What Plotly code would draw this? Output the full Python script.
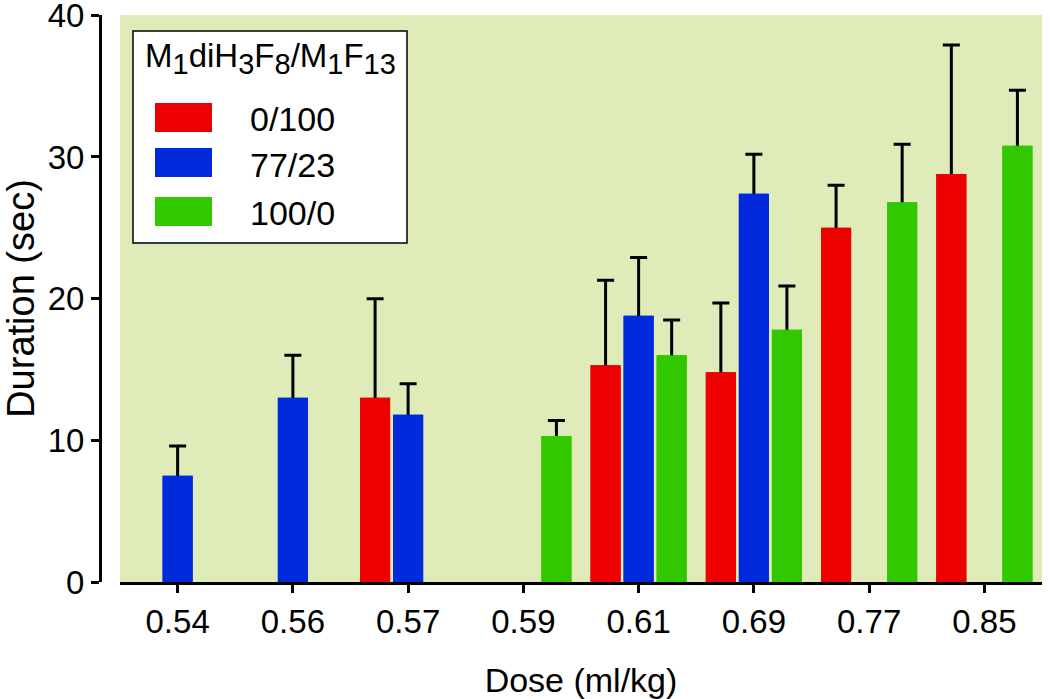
import plotly.graph_objects as go

doses = ["0.54", "0.56", "0.57", "0.59", "0.61", "0.69", "0.77", "0.85"]
series_names = ["0/100", "77/23", "100/0"]
red_vals = [None, None, 13.0, None, 15.3, 14.8, 25.0, 28.8]
red_err = [None, None, 7.0, None, 6.0, 4.9, 3.0, 9.1]
blue_vals = [7.5, 13.0, 11.8, None, 18.8, 27.4, None, None]
blue_err = [2.1, 3.0, 2.2, None, 4.1, 2.8, None, None]
green_vals = [None, None, None, 10.3, 16.0, 17.8, 26.8, 30.8]
green_err = [None, None, None, 1.1, 2.5, 3.1, 4.1, 3.9]
y_ticks = [0, 10, 20, 30, 40]

colors = ["#ec0000", "#0029dc", "#32c800"]
values = [red_vals, blue_vals, green_vals]
errors = [red_err, blue_err, green_err]
groups = ["r", "b", "g"]

FONT = "Liberation Sans, Arial, sans-serif"
fig = go.Figure()

# error bar layer (drawn first, so the real bars cover the stem/lower cap)
for name, vals, errs, col, grp in zip(series_names, values, errors, colors, groups):
    fig.add_trace(go.Bar(
        x=doses, y=vals, name=name, offsetgroup=grp, showlegend=False,
        marker=dict(color=col, line=dict(width=0)),
        error_y=dict(type="data", symmetric=False, array=errs,
                     arrayminus=list(vals),
                     color="black", thickness=3, width=8.5),
        hoverinfo="skip",
    ))
# bars
for name, vals, col, grp in zip(series_names, values, colors, groups):
    fig.add_trace(go.Bar(
        x=doses, y=vals, name=name, offsetgroup=grp, showlegend=False,
        marker=dict(color=col, line=dict(width=0)),
    ))

W, H = 1050, 699
left, right, top, bottom = 100, 1042, 15, 582  # plot area in screen px
ml, mr, mt, mb = left, W - right, top, H - bottom
pw, ph = W - ml - mr, H - mt - mb

def px_x(p):
    return (p - ml) / pw

def px_y(p):
    return (H - mb - p) / ph

def sub(t):
    return '<sub><span style="font-size:29px">%s</span></sub>' % t

shapes = [dict(type="rect", xref="paper", yref="paper",
               x0=px_x(133), x1=px_x(407), y0=px_y(243), y1=px_y(31),
               fillcolor="white", line=dict(color="black", width=1.5), layer="above")]
annotations = [dict(xref="paper", yref="paper", x=px_x(270), y=px_y(58),
                    text="M" + sub("1") + "diH" + sub("3") + "F" + sub("8") + "/M" + sub("1") + "F" + sub("13"),
                    showarrow=False, font=dict(family=FONT, size=33, color="black"),
                    xanchor="center", yanchor="middle")]
sw_rows = [(103, 132), (148, 177), (197, 226)]
for (t, b), col, name in zip(sw_rows, colors, series_names):
    shapes.append(dict(type="rect", xref="paper", yref="paper",
                       x0=px_x(155), x1=px_x(212), y0=px_y(b), y1=px_y(t),
                       fillcolor=col, line=dict(width=0), layer="above"))
    annotations.append(dict(xref="paper", yref="paper", x=px_x(292), y=px_y((t + b) / 2 + 2),
                            text=name, showarrow=False,
                            font=dict(family=FONT, size=34, color="black"),
                            xanchor="center", yanchor="middle"))

fig.update_layout(
    width=W, height=H,
    margin=dict(l=ml, r=mr, t=mt, b=mb, autoexpand=False),
    paper_bgcolor="white", plot_bgcolor="#dfecba",
    barmode="group", bargap=0.14, bargroupgap=0.09,
    font=dict(family=FONT, size=33, color="black"),
    showlegend=False,
    shapes=shapes, annotations=annotations,
    xaxis=dict(type="category", domain=[px_x(120), 1], range=[-0.5, 7.5],
               showline=True, linecolor="black", linewidth=3,
               ticks="outside", ticklen=8, tickwidth=3, tickcolor="black",
               showgrid=False, zeroline=False,
               tickfont=dict(family=FONT, size=33),
               title=dict(text="Dose (ml/kg)", font=dict(family=FONT, size=34), standoff=30)),
    yaxis=dict(range=[0, 40.02], tickvals=y_ticks, anchor="free", position=0,
               showline=True, linecolor="black", linewidth=3,
               ticks="outside", ticklen=8, tickwidth=3, tickcolor="black",
               showgrid=False, zeroline=False, ticklabeloverflow="allow",
               tickfont=dict(family=FONT, size=33),
               title=dict(text="Duration (sec)", font=dict(family=FONT, size=38), standoff=22)),
)

fig.write_html("out.html", config={"displayModeBar": False},
               post_script="document.body.style.margin='0';")
